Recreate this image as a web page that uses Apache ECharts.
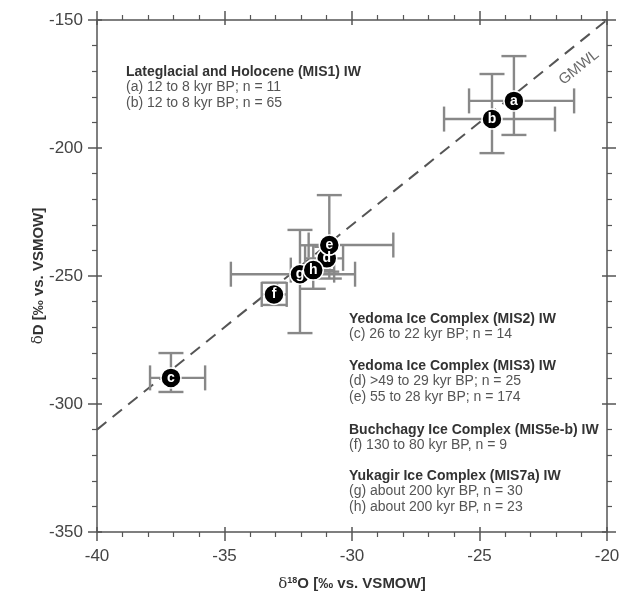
<!DOCTYPE html>
<html>
<head>
<meta charset="utf-8">
<script src="https://cdn.jsdelivr.net/npm/echarts@6/dist/echarts.min.js"></script>
<style>
  html, body { margin: 0; padding: 0; background: #fff; }
  #chart { width: 629px; height: 593px; }
</style>
</head>
<body>
<div id="chart"></div>
<script>
// ice wedge samples a..h
const labels = ['a', 'b', 'c', 'd', 'e', 'f', 'g', 'h'];
const d18O = [-23.65, -24.51, -37.10, -30.99, -30.89, -33.06, -32.04, -31.52];
const dD = [-181.6, -188.7, -289.8, -243.1, -237.9, -257.2, -249.3, -247.7];
const d18OLow = [-25.41, -26.39, -37.92, -31.84, -31.70, -33.54, -34.75, -32.40];
const d18OHigh = [-21.29, -22.04, -35.76, -30.35, -28.38, -32.56, -29.88, -30.70];
const dDLow = [-194.9, -202.0, -295.3, -248.3, -251.0, -261.3, -272.3, -255.0];
const dDHigh = [-164.1, -171.1, -280.1, -238.6, -218.4, -252.6, -232.0, -238.0];

// global meteoric water line end points
const gmwlX = [-40, -20];
const gmwlY = [-310, -150];

const xTicks = [-40, -35, -30, -25, -20];
const yTicks = [-350, -300, -250, -200, -150];

const textBlocks = [
    { x: 126, y: 72, title: 'Lateglacial and Holocene (MIS1) IW',
      lines: ['(a) 12 to 8 kyr BP; n = 11', '(b) 12 to 8 kyr BP; n = 65'] },
    { x: 349, y: 319, title: 'Yedoma Ice Complex (MIS2) IW',
      lines: ['(c) 26 to 22 kyr BP; n = 14'] },
    { x: 349, y: 366, title: 'Yedoma Ice Complex (MIS3) IW',
      lines: ['(d) >49 to 29 kyr BP; n = 25', '(e) 55 to 28 kyr BP; n = 174'] },
    { x: 349, y: 430, title: 'Buchchagy Ice Complex (MIS5e-b) IW',
      lines: ['(f) 130 to 80 kyr BP, n = 9'] },
    { x: 349, y: 476, title: 'Yukagir Ice Complex (MIS7a) IW',
      lines: ['(g) about 200 kyr BP, n = 30', '(h) about 200 kyr BP, n = 23'] }
];

const FONT = '"Liberation Sans", Arial, sans-serif';
const axisColor = '#555';

let chart = echarts.init(document.getElementById('chart'));

let points = labels.map(function (l, i) {
    return [d18O[i], dD[i], d18OLow[i], d18OHigh[i], dDLow[i], dDHigh[i], l];
});

let graphics = [];
textBlocks.forEach(function (b) {
    graphics.push({
        type: 'text', x: b.x, y: b.y,
        style: { text: b.title, font: 'bold 14px ' + FONT, fill: '#333', verticalAlign: 'middle' }
    });
    b.lines.forEach(function (t, k) {
        graphics.push({
            type: 'text', x: b.x, y: b.y + 15.5 + k * 16,
            style: { text: t, font: '14px ' + FONT, fill: '#555', verticalAlign: 'middle' }
        });
    });
});

function xAx(pos, inside, main) {
    return {
        type: 'value', min: -40, max: -20, interval: 5, position: pos,
        axisLine: { show: main, lineStyle: { color: axisColor, width: 1.5 } },
        axisTick: { show: true, inside: inside, length: inside ? 5 : 9, lineStyle: { color: axisColor, width: 1.5 } },
        minorTick: { show: !inside, splitNumber: 5, length: 5, lineStyle: { color: axisColor, width: 1.2 } },
        axisLabel: { show: main && pos === 'bottom', margin: 16, fontSize: 17, color: '#444', fontFamily: FONT,
            formatter: function (v) { return xTicks.indexOf(v) >= 0 ? String(v) : ''; } },
        splitLine: { show: false }
    };
}
function yAx(pos, inside, main) {
    return {
        type: 'value', min: -350, max: -150, interval: 50, position: pos,
        axisLine: { show: main, lineStyle: { color: axisColor, width: 1.5 } },
        axisTick: { show: true, inside: inside, length: inside ? 5 : 9, lineStyle: { color: axisColor, width: 1.5 } },
        minorTick: { show: !inside, splitNumber: 5, length: 5, lineStyle: { color: axisColor, width: 1.2 } },
        axisLabel: { show: main && pos === 'left', margin: 14, fontSize: 17, color: '#444', fontFamily: FONT,
            formatter: function (v) { return yTicks.indexOf(v) >= 0 ? String(v) : ''; } },
        splitLine: { show: false }
    };
}

let xa = [xAx('bottom', false, true), xAx('top', false, true), xAx('bottom', true, false), xAx('top', true, false)];
let ya = [yAx('left', false, true), yAx('right', false, true), yAx('left', true, false), yAx('right', true, false)];

xa[0].name = '{d|δ}{s|18}{b|O [‰ vs. VSMOW]}';
xa[0].nameLocation = 'middle';
xa[0].nameGap = 44;
xa[0].nameMoveOverlap = false;
xa[0].nameTextStyle = {
    rich: {
        d: { fontSize: 15, fontFamily: 'DejaVu Serif', color: '#333' },
        s: { fontSize: 9, fontWeight: 'bold', fontFamily: FONT, color: '#333', padding: [0, 0, 7, 0] },
        b: { fontSize: 15, fontWeight: 'bold', fontFamily: FONT, color: '#333' }
    }
};
ya[0].name = '{d|δ}{b|D [‰ vs. VSMOW]}';
ya[0].nameLocation = 'middle';
ya[0].nameGap = 51;
ya[0].nameMoveOverlap = false;
ya[0].nameTextStyle = {
    rich: {
        d: { fontSize: 15, fontFamily: 'DejaVu Serif', color: '#333' },
        b: { fontSize: 15, fontWeight: 'bold', fontFamily: FONT, color: '#333' }
    }
};

chart.setOption({
    animation: false,
    backgroundColor: '#fff',
    grid: { left: 97, top: 20, right: 22, bottom: 61, outerBoundsMode: 'none' },
    xAxis: xa,
    yAxis: ya,
    graphic: graphics,
    series: [
        {
            name: 'GMWL',
            type: 'line',
            data: gmwlX.map(function (x, i) { return [x, gmwlY[i]]; }),
            symbol: 'none',
            lineStyle: { color: '#555', width: 2, type: [12, 8] },
            z: 1
        },
        {
            name: 'label',
            type: 'scatter',
            data: [[-21.1, -168.5]],
            symbolSize: 0,
            silent: true,
            label: { show: true, formatter: 'GMWL', rotate: 39, fontSize: 15, fontFamily: FONT, color: '#444', position: 'inside' },
            z: 1
        },
        {
            name: 'error bars',
            type: 'custom',
            data: points,
            encode: { x: 0, y: 1 },
            z: 2,
            renderItem: function (params, api) {
                let y = api.value(1), x = api.value(0);
                let l = api.coord([api.value(2), y]);
                let r = api.coord([api.value(3), y]);
                let b = api.coord([x, api.value(4)]);
                let t = api.coord([x, api.value(5)]);
                let cap = 12.5;
                let st = { stroke: '#888', lineWidth: 2.4 };
                return {
                    type: 'group',
                    children: [
                        { type: 'line', shape: { x1: l[0], y1: l[1], x2: r[0], y2: r[1] }, style: st },
                        { type: 'line', shape: { x1: l[0], y1: l[1] - cap, x2: l[0], y2: l[1] + cap }, style: st },
                        { type: 'line', shape: { x1: r[0], y1: r[1] - cap, x2: r[0], y2: r[1] + cap }, style: st },
                        { type: 'line', shape: { x1: b[0], y1: b[1], x2: t[0], y2: t[1] }, style: st },
                        { type: 'line', shape: { x1: b[0] - cap, y1: b[1], x2: b[0] + cap, y2: b[1] }, style: st },
                        { type: 'line', shape: { x1: t[0] - cap, y1: t[1], x2: t[0] + cap, y2: t[1] }, style: st }
                    ]
                };
            }
        },
        {
            name: 'samples',
            type: 'scatter',
            data: points,
            symbolSize: 20,
            itemStyle: { color: '#000', borderColor: '#fff', borderWidth: 1.5, opacity: 1 },
            label: {
                show: true, position: 'inside', color: '#fff', fontSize: 14, fontWeight: 'bold', fontFamily: FONT,
                formatter: function (p) { return p.data[6]; }
            },
            z: 3
        }
    ]
});
</script>
</body>
</html>
